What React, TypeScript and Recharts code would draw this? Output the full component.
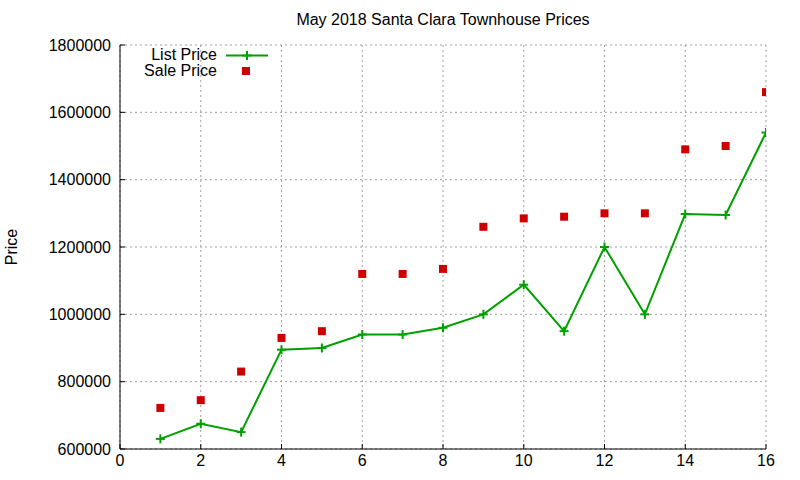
import React from 'react';
import {
  ComposedChart,
  Line,
  Scatter,
  XAxis,
  YAxis,
  CartesianGrid,
} from 'recharts';

const units = [1, 2, 3, 4, 5, 6, 7, 8, 9, 10, 11, 12, 13, 14, 15, 16];
const listPrice = [
  630000, 675000, 650000, 895000, 900000, 940000, 940000, 960000, 1000000,
  1088000, 950000, 1200000, 1000000, 1298000, 1295000, 1540000,
];
const salePrice = [
  722000, 745000, 830000, 930000, 950000, 1120000, 1120000, 1135000, 1260000,
  1285000, 1290000, 1300000, 1300000, 1490000, 1500000, 1660000,
];
const xTicks = [0, 2, 4, 6, 8, 10, 12, 14, 16];
const yTicks = [600000, 800000, 1000000, 1200000, 1400000, 1600000, 1800000];

const data = units.map((u, i) => ({ x: u, list: listPrice[i], sale: salePrice[i] }));

const GREEN = '#00a000';
const RED = '#cc0000';
const FONT = '"Liberation Sans", Arial, sans-serif';

const PlusDot = (props: any) => {
  const { cx, cy } = props;
  if (cx == null || cy == null) return null;
  const s = 4.5;
  return (
    <g>
      <line x1={cx - s} y1={cy} x2={cx + s} y2={cy} stroke={GREEN} strokeWidth={2} />
      <line x1={cx} y1={cy - s} x2={cx} y2={cy + s} stroke={GREEN} strokeWidth={2} />
    </g>
  );
};

const SquareShape = (props: any) => {
  const { cx, cy } = props;
  if (cx == null || cy == null) return null;
  const s = 4;
  return <rect x={cx - s} y={cy - s} width={2 * s} height={2 * s} fill={RED} />;
};

const LegendBox = () => (
  <div
    style={{
      position: 'absolute',
      left: 117,
      top: 47,
      fontFamily: FONT,
      fontSize: 16,
      color: '#000',
    }}
  >
    <div style={{ display: 'flex', alignItems: 'center', height: 16 }}>
      <div style={{ width: 100, textAlign: 'right', lineHeight: '16px' }}>List Price</div>
      <svg width={50} height={16} style={{ marginLeft: 5 }}>
        <line x1={4} y1={8.5} x2={46} y2={8.5} stroke={GREEN} strokeWidth={2} />
        <line x1={20.5} y1={8.5} x2={29.5} y2={8.5} stroke={GREEN} strokeWidth={2} />
        <line x1={25} y1={4} x2={25} y2={13} stroke={GREEN} strokeWidth={2} />
      </svg>
    </div>
    <div style={{ display: 'flex', alignItems: 'center', height: 16 }}>
      <div style={{ width: 100, textAlign: 'right', lineHeight: '16px' }}>Sale Price</div>
      <svg width={50} height={16} style={{ marginLeft: 5 }}>
        <rect x={20} y={4} width={8} height={8} fill={RED} />
      </svg>
    </div>
  </div>
);

export default function App() {
  return (
    <div
      style={{
        position: 'absolute',
        left: 0,
        top: 0,
        width: 800,
        height: 480,
        background: '#fff',
        fontFamily: FONT,
      }}
    >
      <ComposedChart
        width={800}
        height={480}
        data={data}
        margin={{ top: 45, right: 34, bottom: 0, left: 0 }}
      >
        <CartesianGrid stroke="#a0a0a0" strokeDasharray="2 3" />
        <XAxis
          xAxisId={0}
          dataKey="x"
          type="number"
          domain={[0, 16]}
          ticks={xTicks}
          height={31}
          axisLine={{ stroke: '#000', strokeWidth: 1 }}
          tickLine={{ stroke: '#000' }}
          tickSize={-5}
          tickMargin={11}
          tick={{ fill: '#000', fontSize: 16, fontFamily: FONT }}
          allowDataOverflow
        />
        <XAxis
          xAxisId="top"
          orientation="top"
          dataKey="x"
          type="number"
          domain={[0, 16]}
          ticks={xTicks}
          height={0}
          axisLine={{ stroke: '#000', strokeWidth: 1 }}
          tickLine={{ stroke: '#000' }}
          tickSize={-5}
          tick={false}
          allowDataOverflow
        />
        <YAxis
          yAxisId={0}
          type="number"
          domain={[600000, 1800000]}
          ticks={yTicks}
          width={120}
          axisLine={{ stroke: '#000', strokeWidth: 1 }}
          tickLine={{ stroke: '#000' }}
          tickSize={-5}
          tickMargin={14}
          tick={{ fill: '#000', fontSize: 16, fontFamily: FONT }}
          allowDataOverflow
        />
        <YAxis
          yAxisId="right"
          orientation="right"
          type="number"
          domain={[600000, 1800000]}
          ticks={yTicks}
          width={0}
          axisLine={{ stroke: '#000', strokeWidth: 1 }}
          tickLine={{ stroke: '#000' }}
          tickSize={-5}
          tick={false}
          allowDataOverflow
        />
        <Line
          dataKey="list"
          name="List Price"
          stroke={GREEN}
          strokeWidth={2}
          dot={<PlusDot />}
          activeDot={false}
          isAnimationActive={false}
        />
        <Scatter
          dataKey="sale"
          name="Sale Price"
          fill={RED}
          shape={<SquareShape />}
          isAnimationActive={false}
        />
      </ComposedChart>
      <div
        style={{
          position: 'absolute',
          left: 120,
          width: 646,
          top: 10,
          textAlign: 'center',
          fontSize: 16,
          lineHeight: '20px',
          color: '#000',
        }}
      >
        May 2018 Santa Clara Townhouse Prices
      </div>
      <div
        style={{
          position: 'absolute',
          left: 12,
          top: 247,
          fontSize: 16,
          lineHeight: '16px',
          color: '#000',
          transform: 'translate(-50%, -50%) rotate(-90deg)',
          whiteSpace: 'nowrap',
        }}
      >
        Price
      </div>
      <LegendBox />
    </div>
  );
}
